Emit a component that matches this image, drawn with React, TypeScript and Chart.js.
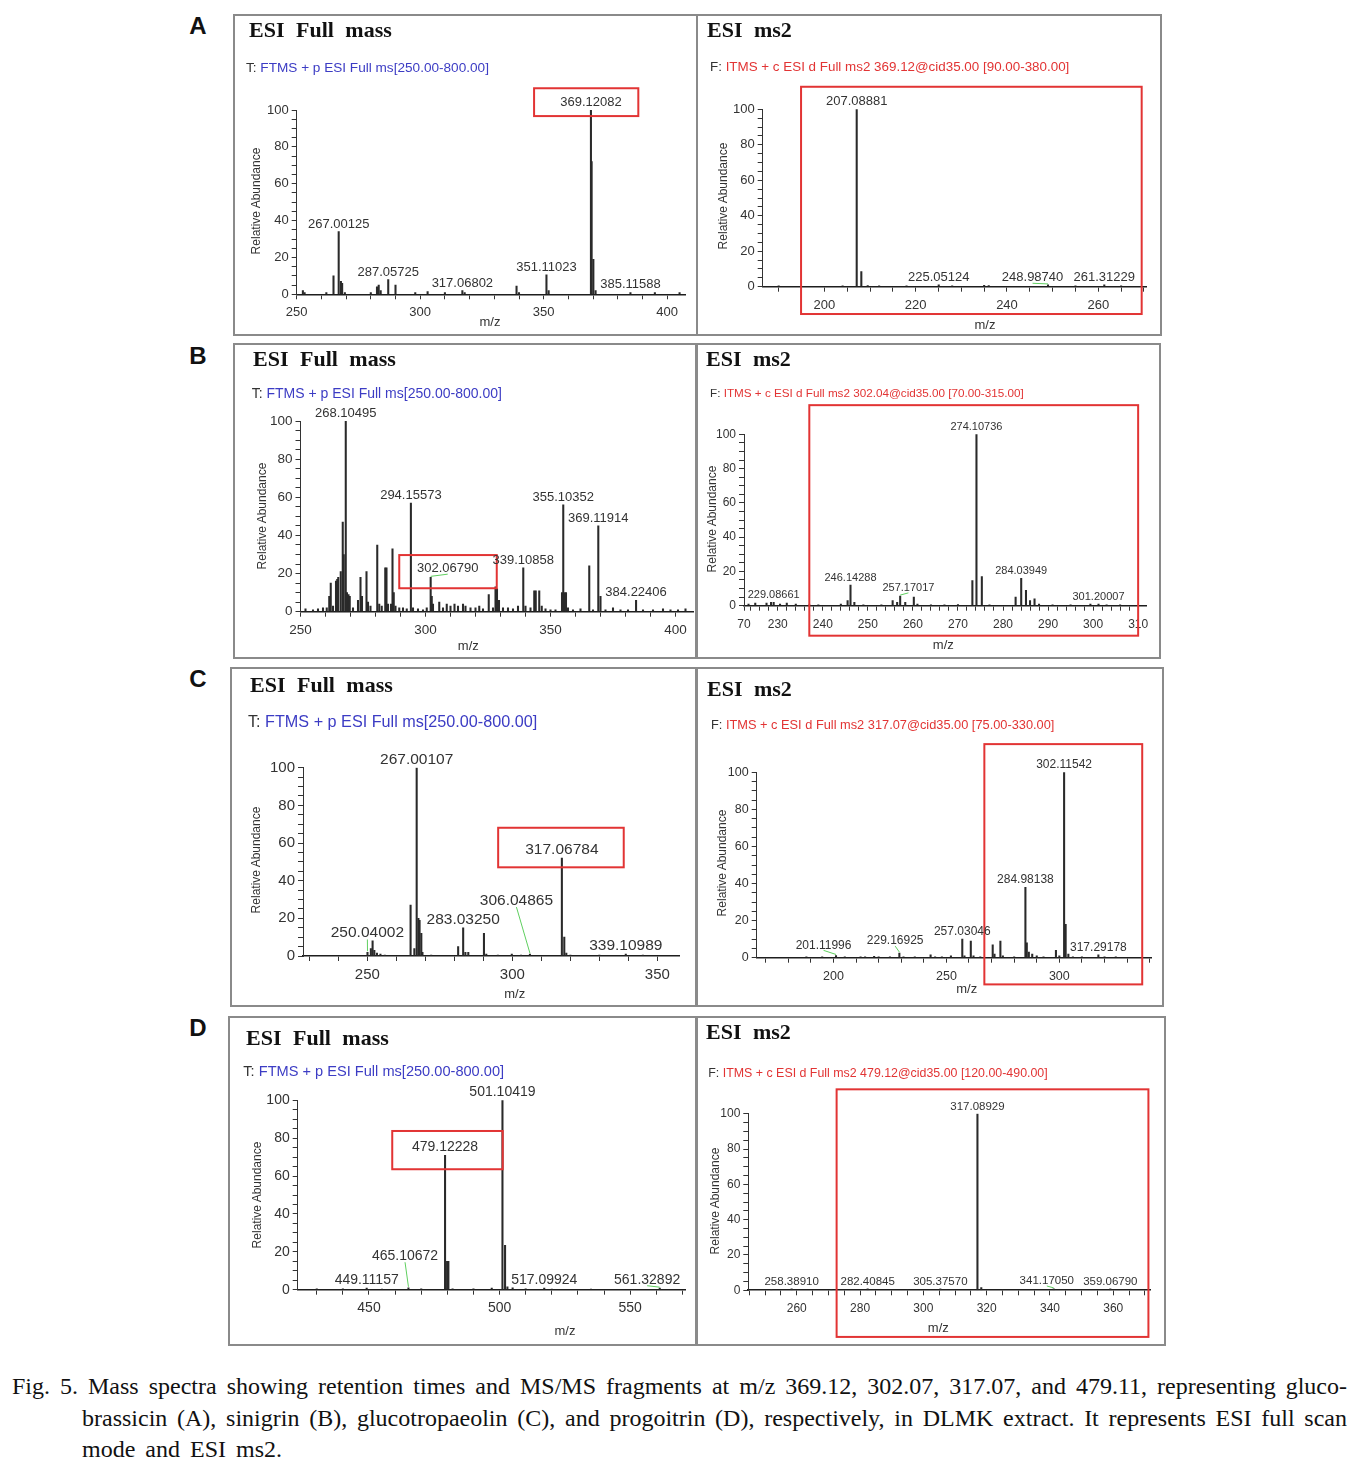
import React, { useEffect, useRef } from "react";
import { Chart, registerables } from "chart.js";

Chart.register(...registerables);

const SANS = '"Liberation Sans", Arial, Helvetica, sans-serif';
const SERIF = '"Liberation Serif", "Times New Roman", Times, serif';
const BLUE = "#3c3cc4";
const RED = "#e23434";
const GREEN = "#5fcf5f";

// ---------- A : glucobrassicin ----------
const A_FULL_PEAKS = [
  [252.5, 2], [253.2, 1], [262, 1], [264.9, 10], [267.00125, 34], [267.9, 7], [268.4, 6], [269.5, 1],
  [280, 1], [282.5, 4], [283.2, 5], [284, 2], [287.05725, 8], [290, 5], [298, 1], [303, 1.5], [310, 1],
  [317.06802, 2], [318, 1], [339, 4.5], [340, 1], [351.11023, 10.5], [352, 2], [369.12082, 100],
  [369.4, 72], [370.1, 19], [371, 2], [385.11588, 1], [395, 1], [405, 1],
];
const A_FULL_LABELS = ["267.00125", "287.05725", "317.06802", "351.11023", "369.12082", "385.11588"];
const A_FULL_SPOTS = {};
const A_FULL_BOX = [346.1, 388.3, 96.7, 111.8];

const A_MS2_PEAKS = [
  [190, 0.5], [204, 0.5], [207.08881, 100], [208.1, 8.5], [209.5, 0.7], [212, 0.5], [218, 0.5],
  [225.05124, 1], [228, 0.5], [235, 0.8], [236, 0.6], [248.9874, 1], [255, 0.5], [261.31229, 1], [265, 0.5],
];
const A_MS2_LABELS = ["207.08881", "225.05124", "248.98740", "261.31229"];
const A_MS2_SPOTS = { "248.98740": [245.6, 5.6] };
const A_MS2_BOX = [194.9, 269.5, -15.4, 112.7];

// ---------- B : sinigrin ----------
const B_FULL_PEAKS = [
  [252, 1.5], [255, 1], [257, 1.5], [259, 2], [260.5, 2], [261.5, 8], [262.1, 15], [263, 3],
  [264.2, 16], [264.7, 17], [265.1, 18], [266.1, 21], [266.9, 47], [267.3, 30], [268.10495, 100],
  [268.6, 10], [269.2, 9], [269.7, 8], [271, 2], [273, 6], [274, 18], [274.6, 8], [276.4, 21],
  [277, 5], [278, 3], [280.7, 35], [281.5, 4], [282.5, 3], [283.9, 23], [284.4, 23], [285, 4],
  [286.2, 4], [286.8, 33], [287.3, 10], [288, 3], [289.5, 2], [291, 2], [292.5, 1.5], [294.15573, 57],
  [295, 2], [297, 1.5], [299, 1], [300.5, 2], [302.0679, 18], [302.5, 8], [303, 4], [305.5, 5],
  [307, 2], [308.5, 4], [310, 3], [311.6, 4], [313, 3], [315, 4], [316, 3], [318, 2], [320, 2],
  [321.5, 3], [323, 1.5], [325.3, 9], [327, 2], [328, 13], [328.6, 12], [329.4, 6], [331, 2],
  [333, 2], [335, 1.5], [337, 3], [339.10858, 23], [340, 3], [342, 2], [343.5, 11], [344.1, 11],
  [345.5, 11], [346.5, 3], [348, 1.5], [350, 1], [352, 1], [354.6, 10], [355.10352, 56], [355.6, 10],
  [356.2, 10], [357, 2], [359, 1], [362, 1.5], [365.5, 24], [367, 1], [369.11914, 45], [370, 8],
  [372, 1], [375, 2], [378, 1], [381, 1], [384.22406, 6], [387, 1], [391, 1], [395, 1.5], [398, 1],
  [401, 1], [404, 1.5],
];
const B_FULL_LABELS = ["268.10495", "294.15573", "302.06790", "339.10858", "355.10352", "369.11914", "384.22406"];
const B_FULL_SPOTS = { "302.06790": [308.9, 23.1] };
const B_FULL_BOX = [289.5, 328.5, 12.3, 29.7];

const B_MS2_PEAKS = [
  [223.5, 1], [225, 1.5], [227.5, 1.5], [228.5, 2], [229.08661, 2], [230.5, 1], [232, 1.5], [234, 1],
  [237, 0.5], [239, 0.5], [244, 1], [245.5, 3], [246.14288, 12], [247, 2], [249, 0.5], [253, 0.5],
  [255.5, 3], [256.5, 2], [257.17017, 5.6], [258.3, 2], [260.2, 5], [261, 1], [264, 0.5], [267, 0.5],
  [270, 0.7], [273.2, 14.6], [274.10736, 100], [275.3, 17], [277, 0.5], [282.8, 5], [284.03949, 16],
  [285.1, 9], [286, 3], [287, 4], [288, 1], [291, 0.5], [295, 0.5], [299.4, 1], [301.20007, 1],
  [303, 0.5], [306, 0.5],
];
const B_MS2_LABELS = ["229.08661", "246.14288", "257.17017", "274.10736", "284.03949", "301.20007"];
const B_MS2_SPOTS = { "257.17017": [259, 10.7] };
const B_MS2_BOX = [237, 310, -17.5, 117];

// ---------- C : glucotropaeolin ----------
const C_FULL_PEAKS = [
  [250.04002, 2], [251.2, 4], [251.8, 8], [252.4, 3], [253.3, 1.5], [254.5, 1], [256, 0.5],
  [264.9, 27], [266.2, 4], [267.00107, 100], [267.6, 20], [268, 19], [268.6, 12], [269, 2], [272, 0.5],
  [281.3, 5], [283.0325, 15], [283.8, 2], [284.8, 2], [290.2, 12], [291, 1], [295, 0.5], [299.8, 1],
  [303, 0.5], [306.04865, 1], [317.06784, 52], [317.9, 10], [318.6, 1.5], [320, 0.5], [330, 0.5],
  [339.10989, 1], [345, 0.5],
];
const C_FULL_LABELS = ["250.04002", "267.00107", "283.03250", "306.04865", "317.06784", "339.10989"];
const C_FULL_SPOTS = { "250.04002": [250.0, 12.9], "306.04865": [301.4, 30.1] };
const C_FULL_BOX = [295.1, 338.4, 47.1, 68.1];

const C_MS2_PEAKS = [
  [188, 0.5], [195, 0.5], [201.11996, 1.2], [205, 0.5], [212, 0.5], [214, 0.5], [218, 0.7], [220, 0.5],
  [225, 0.5], [229.16925, 2.5], [231, 0.5], [236, 0.5], [243, 1.5], [245, 0.5], [248, 0.5], [252, 1],
  [257.03046, 10], [258, 1], [260.8, 9], [262, 1], [265, 0.5], [270.5, 7], [271.3, 2], [273.9, 9],
  [275, 1], [280, 0.5], [284.98138, 38], [285.6, 8], [286.5, 3], [288, 2], [290, 1], [293, 0.5],
  [298.5, 4], [300, 1], [302.11542, 100], [302.8, 18], [304, 2], [306, 0.5], [310, 0.5],
  [317.29178, 1.5], [320, 0.5], [325, 0.5],
];
const C_MS2_LABELS = ["201.11996", "229.16925", "257.03046", "284.98138", "302.11542", "317.29178"];
const C_MS2_SPOTS = { "201.11996": [195.6, 7.2], "229.16925": [227.3, 9.5] };
const C_MS2_BOX = [266.8, 336.7, -14.4, 115.2];

// ---------- D : progoitrin ----------
const D_FULL_PEAKS = [
  [430, 0.5], [440, 0.5], [449.11157, 0.8], [455, 0.3], [465.10672, 1], [470, 0.5], [479.12228, 71],
  [479.9, 15], [480.4, 15], [482, 0.5], [490, 0.5], [497, 0.8], [501.10419, 100], [502.1, 23.4],
  [503, 1.5], [505, 1], [510, 0.4], [517.09924, 0.8], [520, 0.3], [535, 0.3], [561.32892, 0.8],
];
const D_FULL_LABELS = ["449.11157", "465.10672", "479.12228", "501.10419", "517.09924", "561.32892"];
const D_FULL_SPOTS = { "465.10672": [463.8, 18.2], "561.32892": [556.5, 5.8] };
const D_FULL_BOX = [458.9, 501.2, 63.6, 83.8];

const D_MS2_PEAKS = [
  [252, 0.5], [258.3891, 0.8], [271, 0.4], [282.40845, 0.8], [295, 0.3], [305.3757, 0.8],
  [317.08929, 100], [318.3, 1.5], [325, 0.3], [341.1705, 0.8], [359.0679, 0.8],
];
const D_MS2_LABELS = ["258.38910", "282.40845", "305.37570", "317.08929", "341.17050", "359.06790"];
const D_MS2_SPOTS = { "341.17050": [339, 5.7] };
const D_MS2_BOX = [272.6, 371.1, -26.4, 113.8];

const FULL_SUB = " FTMS + p ESI Full ms[250.00-800.00]";

const PANELS = [
  {
    box: [233, 14, 465, 322], area: [296.7, 110, 685, 294.3], xMin: 250, xMax: 407.2, xStep: 10, xLabelStep: 50,
    peaks: A_FULL_PEAKS, labels: A_FULL_LABELS, spots: A_FULL_SPOTS, highlight: A_FULL_BOX, tickFs: 13, peakFs: 13,
    title: "ESI Full mass", titleAt: [249, 30], subHead: "T:", sub: FULL_SUB, subAt: [246, 68], subFs: 13.6, subColor: BLUE,
    yTitleAt: [256, 201], mzAt: [490, 321],
  },
  {
    box: [696, 14, 466, 322], area: [762.7, 109.3, 1146.7, 286.7], xMin: 186.5, xMax: 270.6, xStep: 5, xLabelStep: 20,
    peaks: A_MS2_PEAKS, labels: A_MS2_LABELS, spots: A_MS2_SPOTS, highlight: A_MS2_BOX, tickFs: 13, peakFs: 13,
    title: "ESI ms2", titleAt: [707, 30], subHead: "F:", sub: " ITMS + c ESI d Full ms2 369.12@cid35.00 [90.00-380.00]",
    subAt: [710, 67], subFs: 13.4, subColor: RED, yTitleAt: [723, 196], mzAt: [985, 324],
  },
  {
    box: [233, 343, 464, 316], area: [300.5, 421, 693, 611.7], xMin: 250, xMax: 407, xStep: 10, xLabelStep: 50,
    peaks: B_FULL_PEAKS, labels: B_FULL_LABELS, spots: B_FULL_SPOTS, highlight: B_FULL_BOX, tickFs: 13.5, peakFs: 13,
    title: "ESI Full mass", titleAt: [253, 359], subHead: "T:", sub: FULL_SUB, subAt: [251.7, 393.3], subFs: 14, subColor: BLUE,
    yTitleAt: [261.7, 516], mzAt: [468.3, 645],
  },
  {
    box: [696, 343, 465, 316], area: [744, 434.3, 1146.7, 605.7], xMin: 222.5, xMax: 311.9, xStep: 2, xLabelStep: 10,
    xFirstLabel: "70",
    peaks: B_MS2_PEAKS, labels: B_MS2_LABELS, spots: B_MS2_SPOTS, highlight: B_MS2_BOX, tickFs: 12, peakFs: 11,
    title: "ESI ms2", titleAt: [706, 359], subHead: "F:", sub: " ITMS + c ESI d Full ms2 302.04@cid35.00 [70.00-315.00]",
    subAt: [710, 393.3], subFs: 11.7, subColor: RED, yTitleAt: [711.7, 519], mzAt: [943.3, 644],
  },
  {
    box: [230, 667, 467, 340], area: [303, 767.7, 679.7, 956], xMin: 227.8, xMax: 357.7, xStep: 10, xLabelStep: 50,
    peaks: C_FULL_PEAKS, labels: C_FULL_LABELS, spots: C_FULL_SPOTS, highlight: C_FULL_BOX, tickFs: 15, peakFs: 15.5,
    title: "ESI Full mass", titleAt: [250, 685], subHead: "T:", sub: FULL_SUB, subAt: [248, 721.7], subFs: 16.2, subColor: BLUE,
    yTitleAt: [256.3, 860], mzAt: [514.7, 993.3],
  },
  {
    box: [696, 667, 468, 340], area: [756.7, 772.3, 1151.7, 957.7], xMin: 166, xMax: 340.9, xStep: 10, xLabelStep: 50,
    peaks: C_MS2_PEAKS, labels: C_MS2_LABELS, spots: C_MS2_SPOTS, highlight: C_MS2_BOX, tickFs: 12.5, peakFs: 12,
    title: "ESI ms2", titleAt: [707, 689], subHead: "F:", sub: " ITMS + c ESI d Full ms2 317.07@cid35.00 [75.00-330.00]",
    subAt: [711, 725], subFs: 12.8, subColor: RED, yTitleAt: [721.7, 862.5], mzAt: [966.7, 987.7],
  },
  {
    box: [228, 1016, 469, 330], area: [297.7, 1100.3, 685, 1289.7], xMin: 422.7, xMax: 571, xStep: 10, xLabelStep: 50,
    peaks: D_FULL_PEAKS, labels: D_FULL_LABELS, spots: D_FULL_SPOTS, highlight: D_FULL_BOX, tickFs: 14, peakFs: 14,
    title: "ESI Full mass", titleAt: [246, 1038], subHead: "T:", sub: FULL_SUB, subAt: [243.3, 1072], subFs: 14.6, subColor: BLUE,
    yTitleAt: [256.7, 1194.5], mzAt: [565, 1330.3],
  },
  {
    box: [696, 1016, 470, 330], area: [748.3, 1113.7, 1150, 1290.3], xMin: 244.7, xMax: 371.6, xStep: 5, xLabelStep: 20,
    peaks: D_MS2_PEAKS, labels: D_MS2_LABELS, spots: D_MS2_SPOTS, highlight: D_MS2_BOX, tickFs: 12, peakFs: 11.5,
    title: "ESI ms2", titleAt: [706, 1032], subHead: "F:", sub: " ITMS + c ESI d Full ms2 479.12@cid35.00 [120.00-490.00]",
    subAt: [708.3, 1073.7], subFs: 12.4, subColor: RED, yTitleAt: [715, 1201], mzAt: [938.3, 1327],
  },
];

const PANEL_LETTERS = [["A", 198, 26], ["B", 198, 356], ["C", 198, 679], ["D", 198, 1028]];

const CAPTION_1 =
  "Fig. 5. Mass spectra showing retention times and MS/MS fragments at m/z 369.12, 302.07, 317.07, and 479.11, representing gluco-";
const CAPTION_2 =
  "brassicin (A), sinigrin (B), glucotropaeolin (C), and progoitrin (D), respectively, in DLMK extract. It represents ESI full scan";
const CAPTION_3 = "mode and ESI ms2.";

function Spectrum({ p }: { p: any }) {
  const ref = useRef<HTMLCanvasElement>(null);
  useEffect(() => {
    const canvas = ref.current;
    if (!canvas) return;
    const [bx, by, bw, bh] = p.box;
    const [al, at, ar, ab] = p.area;
    const xTicks: number[] = [];
    if (p.xFirstLabel) xTicks.push(p.xMin);
    const start = Math.ceil((p.xMin - 1e-9) / p.xStep) * p.xStep;
    for (let v = start; v <= p.xMax + 1e-9; v += p.xStep) xTicks.push(Math.round(v * 1000) / 1000);
    const yTicks: number[] = [];
    for (let v = 0; v <= 100; v += 5) yTicks.push(v);
    const isMult = (v: number, s: number) => Math.abs(v / s - Math.round(v / s)) < 1e-6;
    const xPad = Math.max(1, 18.5 - 5 - 0.6 * p.tickFs);

    const overlay = {
      id: "overlay",
      afterDraw(chart: any) {
        const ctx = chart.ctx;
        const xs = chart.scales.x;
        const ys = chart.scales.y;
        ctx.save();
        const [hx1, hx2, hy1, hy2] = p.highlight;
        const X1 = xs.getPixelForValue(hx1);
        const X2 = xs.getPixelForValue(hx2);
        const Y1 = ys.getPixelForValue(hy2);
        const Y2 = ys.getPixelForValue(hy1);
        ctx.strokeStyle = RED;
        ctx.lineWidth = 2;
        ctx.strokeRect(X1, Y1, X2 - X1, Y2 - Y1);
        ctx.font = `${p.peakFs}px ${SANS}`;
        ctx.fillStyle = "#333";
        ctx.textAlign = "center";
        ctx.textBaseline = "alphabetic";
        for (const lab of p.labels) {
          const m = parseFloat(lab);
          let best = p.peaks[0];
          for (const pk of p.peaks) if (Math.abs(pk[0] - m) < Math.abs(best[0] - m)) best = pk;
          const px = xs.getPixelForValue(best[0]);
          const py = ys.getPixelForValue(best[1]);
          const spot = p.spots[lab];
          if (spot) {
            const cx = xs.getPixelForValue(spot[0]);
            const cy = ys.getPixelForValue(spot[1]);
            ctx.strokeStyle = GREEN;
            ctx.lineWidth = 1;
            ctx.beginPath();
            ctx.moveTo(cx, cy + p.peakFs * 0.5);
            ctx.lineTo(px, py - 1);
            ctx.stroke();
            ctx.fillText(lab, cx, cy + p.peakFs * 0.36);
          } else {
            ctx.fillText(lab, px, py - 4);
          }
        }
        ctx.restore();
      },
    };

    const tickFont = { family: SANS, size: p.tickFs };
    const chart = new Chart(canvas, {
      type: "bar",
      data: {
        datasets: [
          {
            data: p.peaks.map((pk: number[]) => ({ x: pk[0], y: pk[1] })),
            backgroundColor: "#2a2a2a",
            borderWidth: 0,
            barThickness: 1.4,
          },
        ],
      },
      options: {
        animation: false,
        responsive: false,
        maintainAspectRatio: false,
        devicePixelRatio: 1,
        layout: { autoPadding: false, padding: { left: 0, top: at - by, right: bx + bw - ar, bottom: 0 } },
        plugins: { legend: { display: false }, tooltip: { enabled: false }, title: { display: false } },
        scales: {
          x: {
            type: "linear",
            min: p.xMin,
            max: p.xMax,
            offset: false,
            grid: { display: true, offset: false, drawOnChartArea: false, drawTicks: true, tickLength: 5, color: "#333", lineWidth: 1 },
            border: { display: true, color: "#1e1e1e", width: 1.6 },
            ticks: {
              autoSkip: false,
              maxRotation: 0,
              minRotation: 0,
              padding: xPad,
              color: "#333",
              font: tickFont,
              callback: (v: any) => {
                const n = Number(v);
                if (p.xFirstLabel && Math.abs(n - p.xMin) < 1e-6) return p.xFirstLabel;
                return isMult(n, p.xLabelStep) ? String(Math.round(n)) : "";
              },
            },
            afterBuildTicks: (s: any) => {
              s.ticks = xTicks.map((v) => ({ value: v }));
            },
            afterFit: (s: any) => {
              s.height = by + bh - ab;
            },
          },
          y: {
            type: "linear",
            min: 0,
            max: 100,
            grid: { display: true, drawOnChartArea: false, drawTicks: true, tickLength: 5, color: "#333", lineWidth: 1 },
            border: { display: true, color: "#333", width: 1 },
            ticks: {
              autoSkip: false,
              padding: 3,
              color: "#333",
              font: tickFont,
              callback: (v: any) => (isMult(Number(v), 20) ? String(v) : ""),
            },
            afterBuildTicks: (s: any) => {
              s.ticks = yTicks.map((v) => ({ value: v }));
            },
            afterFit: (s: any) => {
              s.width = al - bx;
            },
          },
        },
      },
      plugins: [overlay],
    } as any);
    return () => chart.destroy();
  }, [p]);
  const [bx, by, bw, bh] = p.box;
  return (
    <canvas
      ref={ref}
      width={bw}
      height={bh}
      style={{ position: "absolute", left: bx, top: by, width: bw, height: bh }}
    />
  );
}

function Label({ x, y, fs, children, style }: any) {
  return (
    <div
      style={{
        position: "absolute",
        left: x,
        top: y - fs * 0.6,
        fontSize: fs,
        lineHeight: `${fs * 1.2}px`,
        whiteSpace: "nowrap",
        ...style,
      }}
    >
      {children}
    </div>
  );
}

const captionStyle: any = {
  position: "absolute",
  fontFamily: SERIF,
  fontSize: 24,
  lineHeight: "28px",
  color: "#111",
};

export default function App() {
  return (
    <div
      style={{
        position: "absolute",
        left: 0,
        top: 0,
        width: 1367,
        height: 1467,
        background: "#fff",
        overflow: "hidden",
        fontFamily: SANS,
        color: "#222",
      }}
    >
      {PANELS.map((p, i) => (
        <React.Fragment key={i}>
          <Spectrum p={p} />
          <div
            style={{
              position: "absolute",
              left: p.box[0],
              top: p.box[1],
              width: p.box[2],
              height: p.box[3],
              border: "2px solid #8a8a8a",
              boxSizing: "border-box",
              pointerEvents: "none",
            }}
          />
          <Label
            x={p.titleAt[0]}
            y={p.titleAt[1]}
            fs={22}
            style={{ fontFamily: SERIF, fontWeight: "bold", wordSpacing: 6, color: "#111" }}
          >
            {p.title}
          </Label>
          <Label x={p.subAt[0]} y={p.subAt[1]} fs={p.subFs} style={{ fontFamily: SANS }}>
            <span style={{ color: "#333" }}>{p.subHead}</span>
            <span style={{ color: p.subColor }}>{p.sub}</span>
          </Label>
          <div
            style={{
              position: "absolute",
              left: p.yTitleAt[0],
              top: p.yTitleAt[1],
              transform: "translate(-50%, -50%) rotate(-90deg)",
              fontSize: 12,
              lineHeight: "14px",
              whiteSpace: "nowrap",
              color: "#333",
            }}
          >
            Relative Abundance
          </div>
          <div
            style={{
              position: "absolute",
              left: p.mzAt[0],
              top: p.mzAt[1],
              transform: "translate(-50%, -50%)",
              fontSize: 13,
              lineHeight: "15px",
              whiteSpace: "nowrap",
              color: "#333",
            }}
          >
            m/z
          </div>
        </React.Fragment>
      ))}
      {PANEL_LETTERS.map(([t, x, y]) => (
        <div
          key={t as string}
          style={{
            position: "absolute",
            left: x as number,
            top: y as number,
            transform: "translate(-50%, -50%)",
            fontSize: 24,
            lineHeight: "26px",
            fontWeight: "bold",
            color: "#111",
          }}
        >
          {t}
        </div>
      ))}
      <div style={{ ...captionStyle, left: 12, top: 1372, width: 1335, textAlign: "justify", textAlignLast: "justify" }}>
        {CAPTION_1}
      </div>
      <div style={{ ...captionStyle, left: 82, top: 1404, width: 1265, textAlign: "justify", textAlignLast: "justify" }}>
        {CAPTION_2}
      </div>
      <div style={{ ...captionStyle, left: 82, top: 1435, whiteSpace: "nowrap", wordSpacing: 4 }}>{CAPTION_3}</div>
    </div>
  );
}
